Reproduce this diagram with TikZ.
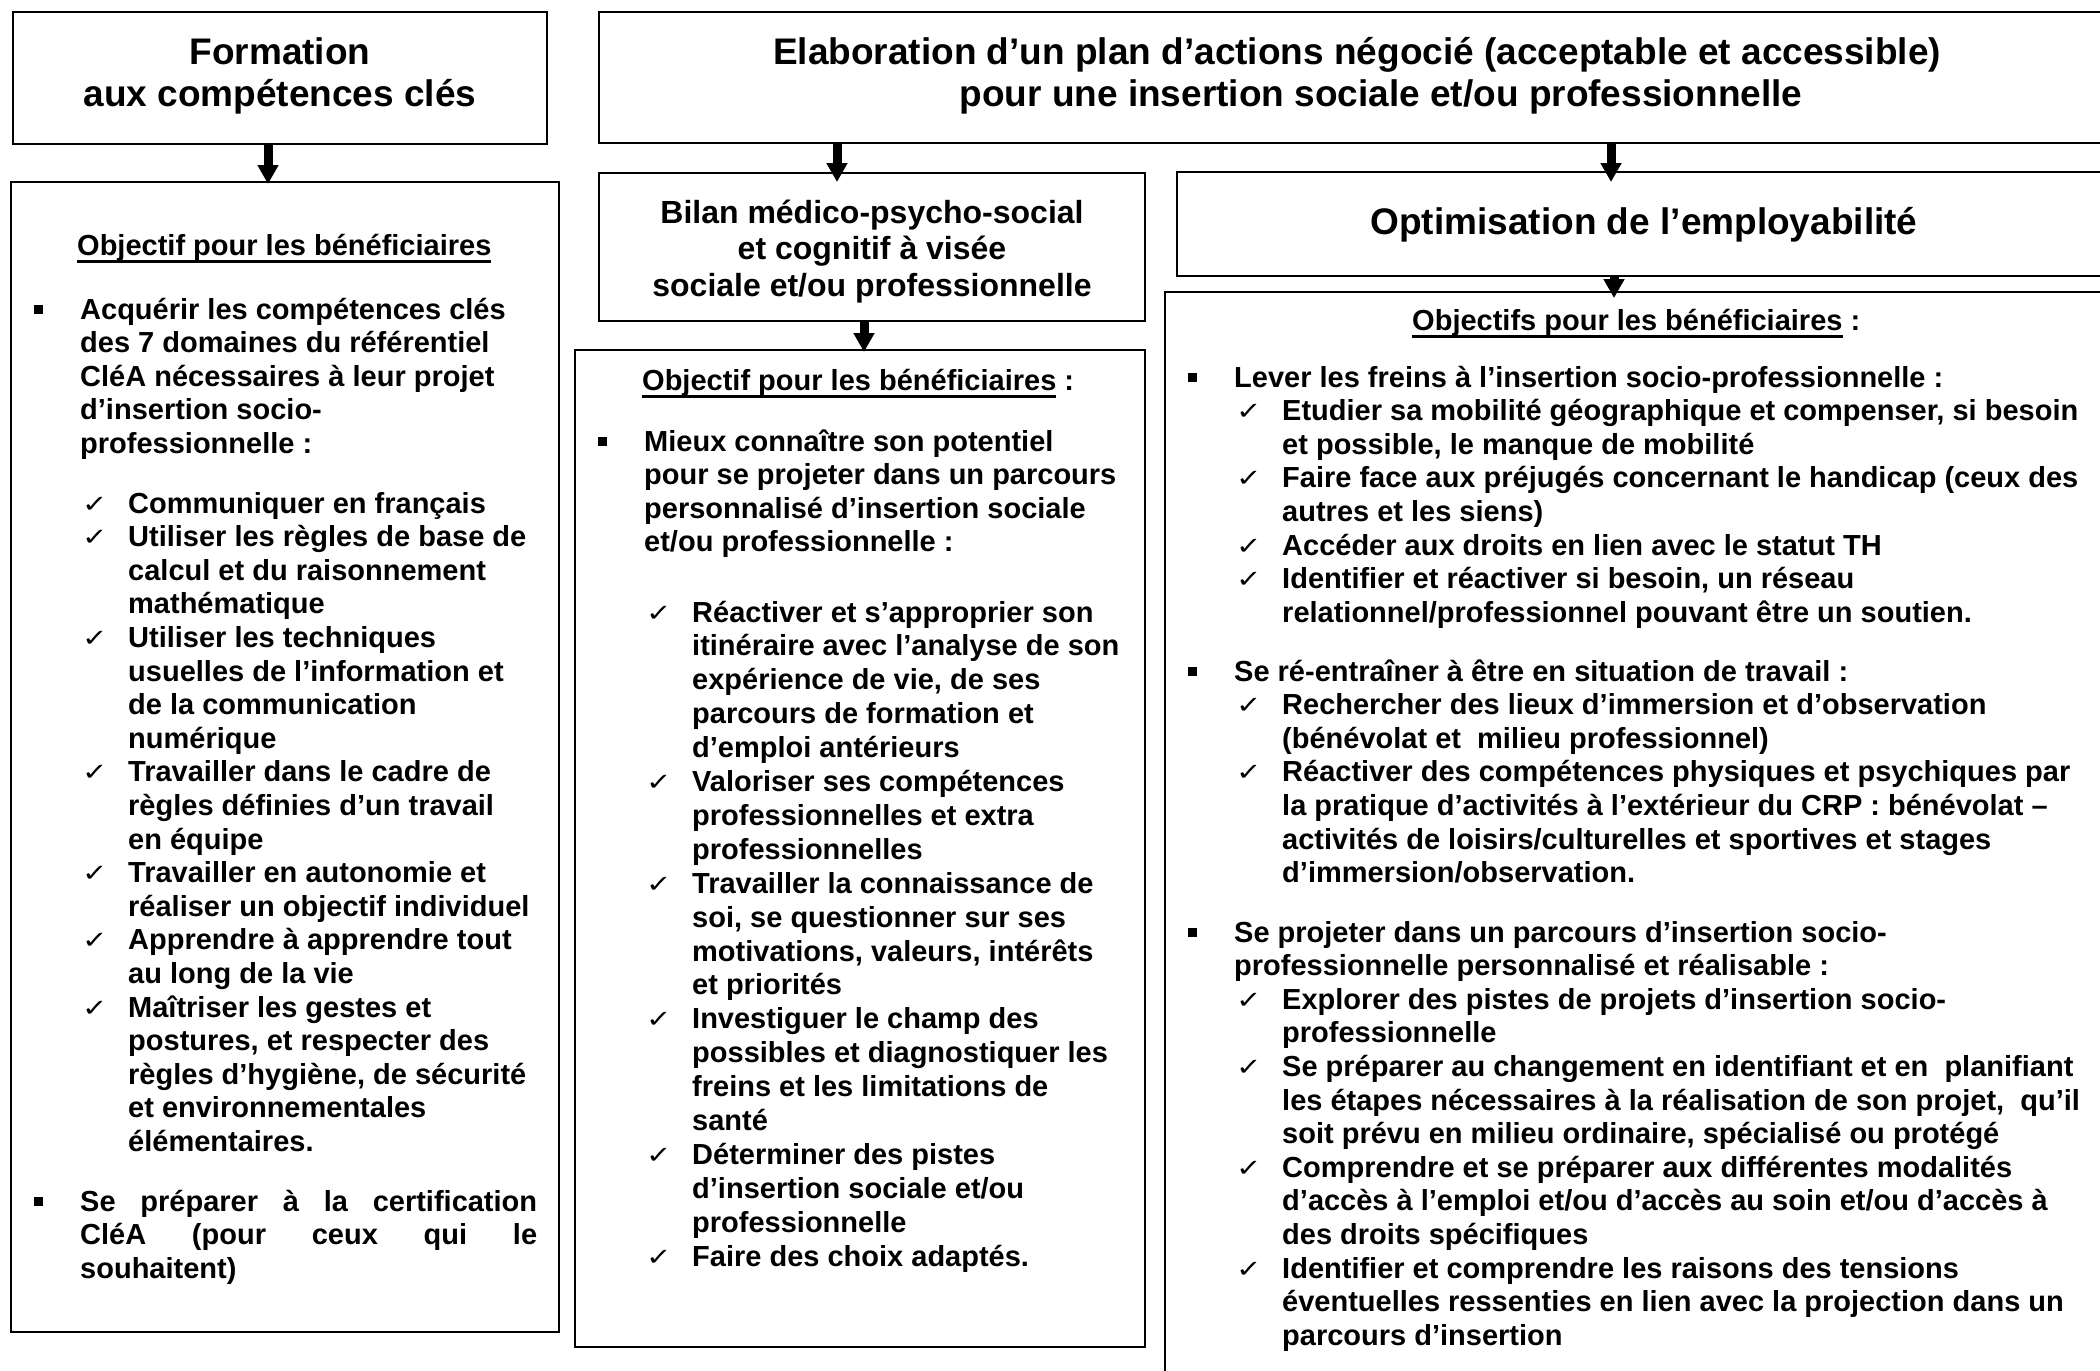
\documentclass[tikz,border=0pt]{standalone}
\usepackage{fontspec}
\setmainfont{Liberation Sans}
\newfontfamily\symf{DejaVu Sans}
\usetikzlibrary{arrows.meta}
\newlength\ulw
\newcommand\ulx[1]{\settowidth\ulw{#1}\rlap{\rule[-8pt]{\ulw}{2.6pt}}#1}
\newcommand\ck{\leavevmode\llap{\makebox[46pt][l]{\raisebox{1pt}{\scalebox{1.45}[1.15]{\symf\mdseries\fontsize{21}{21}\selectfont ✓}}}}}
\newcommand\bq{\leavevmode\llap{\makebox[46pt][l]{\rule[5pt]{9pt}{9pt}}}}
\newcommand\ind{\leavevmode\hspace*{48pt}}
\newcommand\blk[1]{\parbox[t]{1000pt}{\raggedright #1}}
\newcommand\bodyf{\fontsize{29}{33.6}\selectfont\bfseries}
\newcommand\midf{\fontsize{29}{33.9}\selectfont\bfseries}
\newcommand\ttlf{\fontsize{37}{42}\selectfont\bfseries}
\begin{document}
\begin{tikzpicture}[x=1pt,y=-1pt,
  box/.style={draw, line width=2.4pt, anchor=north west, inner sep=0pt, outer sep=0pt},
  txt/.style={anchor=base west, inner sep=0pt, font=\bodyf},
  ttl/.style={anchor=base, inner sep=0pt},
  arr/.style={line width=9pt, -{Triangle[width=20pt,length=19pt]}}]
\fill[white] (0,0) rectangle (2100,1370);
\useasboundingbox (0,0) rectangle (2100,1370);
\clip (0,0) rectangle (2100,1370);

% boxes
\node[box, minimum width=534pt, minimum height=132pt] (form) at (13,12) {};
\node[box, minimum width=1516pt, minimum height=131pt] (elab) at (599,12) {};
\node[box, minimum width=548pt, minimum height=1150pt] (obj1) at (11,182) {};
\node[box, minimum width=546pt, minimum height=148pt] (bilan) at (599,173) {};
\node[box, minimum width=940pt, minimum height=104pt] (optim) at (1177,172) {};
\node[box, minimum width=570pt, minimum height=997pt] (obj2) at (575,350) {};
\node[box, minimum width=950pt, minimum height=1100pt] (obj3) at (1165,292) {};

% arrows
\coordinate (c1) at (268,0);
\coordinate (c2) at (837,0);
\coordinate (c3) at (1611,0);
\coordinate (c4) at (864,0);
\coordinate (c5) at (1614,0);
\draw[arr, shorten >=-2pt] (form.south -| c1) -- (obj1.north -| c1);
\draw[arr, shorten >=-9pt] (elab.south -| c2) -- (bilan.north -| c2);
\draw[arr, shorten >=-10pt] (elab.south -| c3) -- (optim.north -| c3);
\draw[arr, shorten >=-2pt] (bilan.south -| c4) -- (obj2.north -| c4);
\draw[arr, shorten >=-6pt] (optim.south -| c5) -- (obj3.north -| c5);

% titles
\node[ttl, font=\ttlf] (tform) at (280,65) {\parbox[t]{530pt}{\centering Formation\\aux compétences clés}};
\node[ttl, font=\ttlf] (telab) at (1357,65) {\parbox[t]{1500pt}{\centering Elaboration d’un plan d’actions négocié (acceptable et accessible)\\\hspace*{48pt}pour une insertion sociale et/ou professionnelle}};
\node[ttl, font=\fontsize{32}{36.5}\selectfont\bfseries] (tbilan) at (872,223) {\parbox[t]{540pt}{\centering Bilan médico-psycho-social\\et cognitif à visée\\sociale et/ou professionnelle}};
\node[ttl, font=\ttlf] (toptim) at (1644,234) {Optimisation de l’employabilité};

% headings
\node[txt] (h1) at (77,255) {\ulx{Objectif pour les bénéficiaires}};
\node[txt] (h2) at (642,390) {\ulx{Objectif pour les bénéficiaires} :};
\node[txt] (h3) at (1412,330) {\ulx{Objectifs pour les bénéficiaires} :};

% left box
\node[txt] (l1) at (80,319) {\blk{\bq Acquérir les compétences clés\\des 7 domaines du référentiel\\CléA nécessaires à leur projet\\d’insertion socio-\\professionnelle :}};
\node[txt] (l2) at (80,513) {\blk{\ind\ck Communiquer en français\\
\ind\ck Utiliser les règles de base de\\
\ind calcul et du raisonnement\\
\ind mathématique\\
\ind\ck Utiliser les techniques\\
\ind usuelles de l’information et\\
\ind de la communication\\
\ind numérique\\
\ind\ck Travailler dans le cadre de\\
\ind règles définies d’un travail\\
\ind en équipe\\
\ind\ck Travailler en autonomie et\\
\ind réaliser un objectif individuel\\
\ind\ck Apprendre à apprendre tout\\
\ind au long de la vie\\
\ind\ck Maîtriser les gestes et\\
\ind postures, et respecter des\\
\ind règles d’hygiène, de sécurité\\
\ind et environnementales\\
\ind élémentaires.}};
\node[txt] (l3) at (80,1211) {\blk{\bq\makebox[457pt][s]{Se préparer à la certification}\\\makebox[457pt][s]{CléA (pour ceux qui le}\\souhaitent)}};

% middle box
\node[txt] (m1) at (644,451) {\blk{\bq Mieux connaître son potentiel\\pour se projeter dans un parcours\\personnalisé d’insertion sociale\\et/ou professionnelle :}};
\node[txt, font=\midf] (m2) at (644,622) {\blk{\ind\ck Réactiver et s’approprier son\\
\ind itinéraire avec l’analyse de son\\
\ind expérience de vie, de ses\\
\ind parcours de formation et\\
\ind d’emploi antérieurs\\
\ind\ck Valoriser ses compétences\\
\ind professionnelles et extra\\
\ind professionnelles\\
\ind\ck Travailler la connaissance de\\
\ind soi, se questionner sur ses\\
\ind motivations, valeurs, intérêts\\
\ind et priorités\\
\ind\ck Investiguer le champ des\\
\ind possibles et diagnostiquer les\\
\ind freins et les limitations de\\
\ind santé\\
\ind\ck Déterminer des pistes\\
\ind d’insertion sociale et/ou\\
\ind professionnelle\\
\ind\ck Faire des choix adaptés.}};

% right box
\node[txt] (r1) at (1234,387) {\blk{\bq Lever les freins à l’insertion socio-professionnelle :\\
\ind\ck Etudier sa mobilité géographique et compenser, si besoin\\
\ind et possible, le manque de mobilité\\
\ind\ck Faire face aux préjugés concernant le handicap (ceux des\\
\ind autres et les siens)\\
\ind\ck Accéder aux droits en lien avec le statut TH\\
\ind\ck Identifier et réactiver si besoin, un réseau\\
\ind relationnel/professionnel pouvant être un soutien.}};
\node[txt] (r2) at (1234,681) {\blk{\bq Se ré-entraîner à être en situation de travail :\\
\ind\ck Rechercher des lieux d’immersion et d’observation\\
\ind (bénévolat et\ \ milieu professionnel)\\
\ind\ck Réactiver des compétences physiques et psychiques par\\
\ind la pratique d’activités à l’extérieur du CRP : bénévolat –\\
\ind activités de loisirs/culturelles et sportives et stages\\
\ind d’immersion/observation.}};
\node[txt] (r3) at (1234,942) {\blk{\bq Se projeter dans un parcours d’insertion socio-\\
professionnelle personnalisé et réalisable :\\
\ind\ck Explorer des pistes de projets d’insertion socio-\\
\ind professionnelle\\
\ind\ck Se préparer au changement en identifiant et en\ \ planifiant\\
\ind les étapes nécessaires à la réalisation de son projet,\ \ qu’il\\
\ind soit prévu en milieu ordinaire, spécialisé ou protégé\\
\ind\ck Comprendre et se préparer aux différentes modalités\\
\ind d’accès à l’emploi et/ou d’accès au soin et/ou d’accès à\\
\ind des droits spécifiques\\
\ind\ck Identifier et comprendre les raisons des tensions\\
\ind éventuelles ressenties en lien avec la projection dans un\\
\ind parcours d’insertion}};
\end{tikzpicture}
\end{document}
